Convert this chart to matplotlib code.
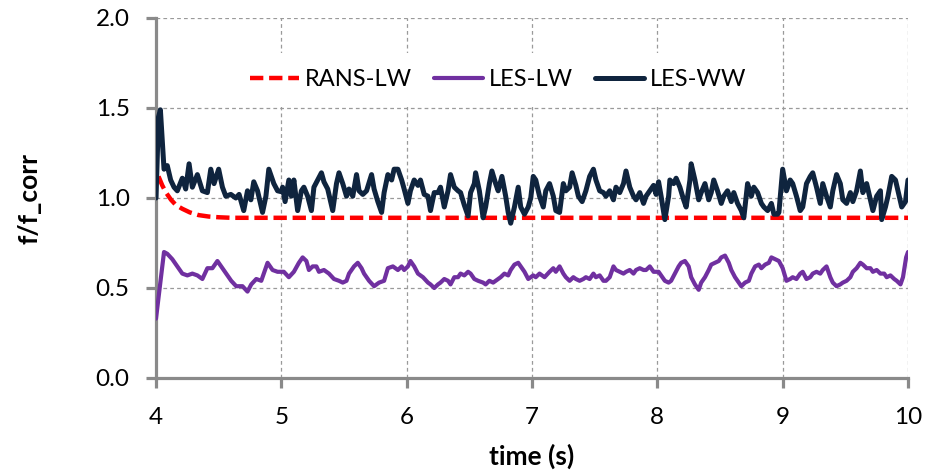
import matplotlib
matplotlib.use("Agg")
import matplotlib.pyplot as plt

plt.rcParams['font.family'] = ['Lato', 'DejaVu Sans']

# ---- data ----
t_ww = [4.00, 4.02, 4.035, 4.064, 4.09, 4.117, 4.144, 4.17, 4.21, 4.237, 4.264, 4.29, 4.33, 4.37, 4.41,
        4.437, 4.463, 4.50, 4.53, 4.557, 4.597, 4.637, 4.663, 4.70, 4.73, 4.757, 4.78, 4.81, 4.85, 4.877,
        4.90, 4.94, 4.97,
        5.00, 5.01, 5.03, 5.06, 5.08, 5.10, 5.13, 5.16, 5.18, 5.21, 5.24, 5.26, 5.29, 5.32, 5.34, 5.37,
        5.41, 5.44, 5.46, 5.49, 5.52, 5.54, 5.57, 5.60, 5.62, 5.65, 5.68, 5.72, 5.74, 5.77, 5.80, 5.82,
        5.85, 5.88, 5.90, 5.93, 5.96, 5.98,
        6.01, 6.03, 6.06, 6.09, 6.11, 6.14, 6.17, 6.19, 6.22, 6.25, 6.27, 6.30, 6.33, 6.35, 6.38, 6.41,
        6.43, 6.46, 6.49, 6.51, 6.54, 6.55, 6.58, 6.61, 6.63, 6.66, 6.68, 6.71, 6.73, 6.76, 6.79, 6.81,
        6.83, 6.86, 6.89, 6.91, 6.94, 6.97,
        6.99, 7.01, 7.03, 7.06, 7.09, 7.11, 7.14, 7.17, 7.19, 7.22, 7.25, 7.27, 7.30, 7.32, 7.35, 7.37,
        7.40, 7.43, 7.46, 7.49, 7.51, 7.54, 7.57, 7.59, 7.62, 7.65, 7.67, 7.70, 7.73, 7.75, 7.78, 7.81,
        7.83, 7.86, 7.89, 7.91, 7.94, 7.97,
        7.99, 8.01, 8.03, 8.06, 8.09, 8.10, 8.13, 8.15, 8.18, 8.21, 8.23, 8.26, 8.27, 8.30, 8.33, 8.35,
        8.38, 8.41, 8.43, 8.45, 8.48, 8.51, 8.53, 8.56, 8.59, 8.61, 8.64, 8.67, 8.69, 8.72, 8.75, 8.77,
        8.80, 8.83, 8.85, 8.88, 8.91, 8.93, 8.96, 8.97,
        9.00, 9.03, 9.06, 9.08, 9.11, 9.14, 9.16, 9.19, 9.22, 9.24, 9.27, 9.30, 9.32, 9.35, 9.38, 9.40,
        9.43, 9.46, 9.48, 9.51, 9.54, 9.56, 9.59, 9.62, 9.64, 9.67, 9.70, 9.72, 9.75, 9.78, 9.79, 9.82,
        9.84, 9.87, 9.90, 9.92, 9.95, 9.98, 10.0]
les_ww = [1.00, 1.45, 1.49, 1.16, 1.18, 1.10, 1.06, 1.04, 1.11, 1.05, 1.19, 1.06, 1.13, 1.04, 1.03,
          1.16, 1.08, 1.16, 1.06, 1.01, 1.02, 1.00, 1.02, 0.93, 1.04, 0.99, 1.09, 1.04, 0.92, 1.01,
          1.16, 1.08, 1.04,
          1.035, 1.06, 0.98, 1.10, 1.01, 1.10, 0.93, 1.04, 1.06, 1.01, 0.93, 1.06, 1.10, 1.14, 1.09, 1.05,
          0.93, 1.08, 1.14, 1.08, 1.01, 1.05, 1.01, 1.13, 1.04, 1.02, 1.04, 1.13, 1.05, 0.98, 0.92, 1.03,
          1.13, 1.10, 1.16, 1.16, 1.10, 1.05,
          0.97, 1.04, 1.10, 1.07, 1.10, 1.02, 1.01, 0.93, 1.03, 1.03, 1.06, 0.95, 1.04, 1.13, 1.06, 1.04,
          1.03, 0.96, 0.90, 1.03, 1.08, 1.14, 1.04, 0.89, 0.95, 1.08, 1.15, 1.08, 1.04, 1.12, 1.01, 0.92,
          0.86, 0.95, 1.06, 0.95, 0.91, 0.95,
          1.00, 1.12, 1.10, 1.01, 0.95, 1.04, 1.08, 1.01, 0.93, 0.92, 1.08, 1.04, 1.06, 1.14, 1.07, 1.01,
          0.98, 1.04, 1.12, 1.16, 1.10, 1.04, 1.03, 1.01, 1.04, 0.99, 1.06, 1.03, 1.08, 1.15, 1.06, 1.01,
          0.99, 1.03, 0.97, 1.01, 1.04, 1.07,
          1.02, 1.09, 1.01, 0.88, 1.01, 1.10, 1.08, 1.11, 1.06, 0.99, 0.95, 1.10, 1.19, 1.10, 0.99, 1.03,
          1.08, 0.99, 1.03, 1.10, 1.04, 0.97, 1.01, 1.04, 0.98, 1.03, 0.97, 0.93, 0.89, 1.08, 1.01, 1.06,
          1.03, 0.97, 0.95, 0.93, 0.97, 0.91, 0.91, 0.92,
          1.16, 1.04, 1.10, 1.08, 1.01, 0.93, 0.95, 1.08, 1.12, 1.14, 1.06, 0.97, 1.08, 1.01, 0.95, 1.04,
          1.13, 1.08, 0.99, 0.97, 1.03, 0.98, 1.04, 1.15, 1.03, 1.08, 0.99, 0.93, 1.01, 1.04, 0.88, 0.95,
          1.01, 1.12, 1.10, 1.04, 0.95, 0.98, 1.10]

t_lw = [4.00, 4.064, 4.09, 4.13, 4.17, 4.21, 4.25, 4.29, 4.33, 4.37, 4.41, 4.45, 4.49, 4.52, 4.56,
        4.60, 4.64, 4.69, 4.73, 4.76, 4.80, 4.84, 4.89, 4.93, 4.97,
        5.02, 5.06, 5.10, 5.14, 5.17, 5.20, 5.22, 5.25, 5.28, 5.30, 5.34, 5.38, 5.42, 5.46, 5.49, 5.52,
        5.54, 5.58, 5.61, 5.64, 5.66, 5.70, 5.74, 5.78, 5.82, 5.85, 5.89, 5.93, 5.96, 5.98,
        6.01, 6.03, 6.06, 6.09, 6.13, 6.17, 6.19, 6.22, 6.25, 6.27, 6.30, 6.33, 6.35, 6.38, 6.41, 6.43,
        6.46, 6.49, 6.51, 6.54, 6.57, 6.61, 6.63, 6.66, 6.69, 6.71, 6.75, 6.78, 6.81, 6.83, 6.86, 6.89,
        6.91, 6.94, 6.97,
        7.01, 7.03, 7.06, 7.10, 7.14, 7.17, 7.19, 7.22, 7.25, 7.27, 7.30, 7.33, 7.35, 7.38, 7.41, 7.43,
        7.46, 7.49, 7.51, 7.54, 7.57, 7.59, 7.62, 7.65, 7.67, 7.70, 7.73, 7.75, 7.78, 7.81, 7.83, 7.86,
        7.89, 7.91, 7.94, 7.97,
        8.01, 8.03, 8.06, 8.09, 8.11, 8.14, 8.17, 8.19, 8.22, 8.25, 8.27, 8.30, 8.33, 8.35, 8.38, 8.41,
        8.43, 8.46, 8.49, 8.51, 8.54, 8.57, 8.59, 8.62, 8.65, 8.67, 8.70, 8.73, 8.75, 8.78, 8.81, 8.83,
        8.86, 8.89, 8.91, 8.94, 8.97,
        9.00, 9.03, 9.06, 9.08, 9.11, 9.14, 9.16, 9.19, 9.22, 9.24, 9.27, 9.30, 9.32, 9.35, 9.38, 9.40,
        9.43, 9.46, 9.48, 9.51, 9.54, 9.56, 9.59, 9.62, 9.64, 9.67, 9.70, 9.72, 9.75, 9.78, 9.81, 9.83,
        9.86, 9.89, 9.91, 9.94, 9.96, 9.985, 10.0]
les_lw = [0.33, 0.70, 0.69, 0.66, 0.62, 0.58, 0.57, 0.58, 0.57, 0.55, 0.61, 0.61, 0.65, 0.62, 0.58,
          0.54, 0.51, 0.51, 0.48, 0.52, 0.55, 0.54, 0.64, 0.60, 0.59,
          0.59, 0.56, 0.59, 0.64, 0.67, 0.65, 0.60, 0.62, 0.62, 0.59, 0.60, 0.58, 0.55, 0.54, 0.53, 0.54,
          0.58, 0.62, 0.64, 0.61, 0.58, 0.54, 0.51, 0.53, 0.54, 0.61, 0.62, 0.60, 0.62, 0.60,
          0.62, 0.65, 0.62, 0.58, 0.56, 0.53, 0.52, 0.50, 0.52, 0.53, 0.55, 0.54, 0.52, 0.56, 0.56, 0.58,
          0.57, 0.59, 0.58, 0.55, 0.54, 0.53, 0.52, 0.54, 0.53, 0.54, 0.56, 0.58, 0.57, 0.60, 0.63, 0.64,
          0.62, 0.59, 0.55,
          0.57, 0.56, 0.58, 0.56, 0.59, 0.61, 0.59, 0.62, 0.58, 0.56, 0.54, 0.56, 0.55, 0.54, 0.55, 0.56,
          0.55, 0.58, 0.56, 0.57, 0.54, 0.54, 0.56, 0.62, 0.60, 0.59, 0.58, 0.59, 0.60, 0.58, 0.60, 0.61,
          0.60, 0.60, 0.62, 0.59,
          0.59, 0.57, 0.54, 0.53, 0.54, 0.58, 0.62, 0.64, 0.65, 0.62, 0.56, 0.52, 0.49, 0.53, 0.56, 0.60,
          0.63, 0.64, 0.65, 0.67, 0.68, 0.64, 0.60, 0.56, 0.53, 0.51, 0.53, 0.54, 0.58, 0.62, 0.63, 0.61,
          0.63, 0.64, 0.67, 0.66, 0.65,
          0.61, 0.54, 0.55, 0.56, 0.55, 0.58, 0.59, 0.55, 0.56, 0.58, 0.59, 0.58, 0.60, 0.62, 0.56, 0.53,
          0.51, 0.52, 0.53, 0.54, 0.56, 0.59, 0.61, 0.64, 0.63, 0.61, 0.61, 0.59, 0.60, 0.58, 0.58, 0.56,
          0.57, 0.55, 0.54, 0.52, 0.56, 0.67, 0.70]

t_rans = [4.02, 4.05, 4.08, 4.12, 4.16, 4.21, 4.27, 4.34, 4.42, 4.50, 4.60, 10.0]
rans_lw = [1.12, 1.07, 1.03, 0.99, 0.96, 0.94, 0.92, 0.905, 0.897, 0.893, 0.89, 0.89]

series_names = ['RANS-LW', 'LES-LW', 'LES-WW']
x_ticks = [4, 5, 6, 7, 8, 9, 10]
y_ticks = [0.0, 0.5, 1.0, 1.5, 2.0]

# ---- figure ----
W, H = 927, 473
fig = plt.figure(figsize=(W / 100, H / 100), dpi=100)
ax = fig.add_axes([156 / W, 1 - 378 / H, (908 - 156) / W, (378 - 18) / H])

axis_gray = '#8a8a8a'
ax.plot(t_rans, rans_lw, color='#FF0000', lw=3.2, dashes=[3.0, 1.3], label=series_names[0], zorder=3)
ax.plot(t_lw, les_lw, color='#7030A0', lw=3.0, label=series_names[1], zorder=4,
        solid_joinstyle='round', solid_capstyle='round')
ax.plot(t_ww, les_ww, color='#0F243E', lw=3.6, label=series_names[2], zorder=5,
        solid_joinstyle='round', solid_capstyle='round')

ax.set_xlim(4, 10)
ax.set_ylim(0, 2.0)
ax.set_xticks(x_ticks)
ax.set_xticklabels([str(v) for v in x_ticks])
ax.set_yticks(y_ticks)
ax.set_yticklabels([f'{v:.1f}' for v in y_ticks])

ax.grid(True, color='#9a9a9a', linestyle=(0, (3, 2.5)), linewidth=0.9, zorder=0)
ax.set_axisbelow(True)

for s in ['top', 'right']:
    ax.spines[s].set_visible(False)
for s in ['left', 'bottom']:
    ax.spines[s].set_color(axis_gray)
    ax.spines[s].set_linewidth(2.3)
ax.tick_params(axis='both', colors=axis_gray, width=2.3, length=7, direction='out',
               labelcolor='black', labelsize=17.5)
ax.tick_params(axis='y', pad=12)
ax.tick_params(axis='x', pad=14)

ax.set_xlabel('time (s)', fontsize=19, fontweight='bold', va='center')
ax.xaxis.set_label_coords(0.5, (378 - 456) / 360)
ax.set_ylabel('f/f_corr', fontsize=19, fontweight='bold', va='center', ha='center')
ax.yaxis.set_label_coords((29 - 156) / 752, 0.5)

leg = ax.legend(ncol=3, loc='center', bbox_to_anchor=(0.455, 0.828), frameon=True,
                facecolor='white', edgecolor='none', framealpha=1.0, fancybox=False,
                fontsize=17, handlelength=2.1, handletextpad=0.25, columnspacing=0.9,
                borderpad=0.7)
leg.set_zorder(10)

fig.savefig('out.png', dpi=100)
